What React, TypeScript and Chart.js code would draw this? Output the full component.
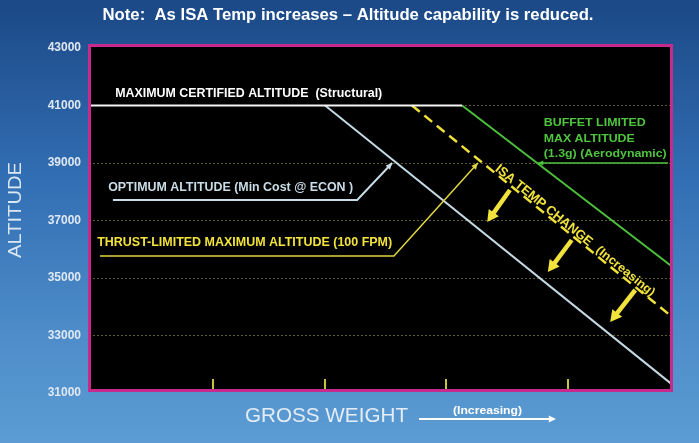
import React, { useEffect, useRef } from 'react';
import { Chart, registerables } from 'chart.js';

Chart.register(...registerables);

// ---------------- data ----------------
const chartTitle = 'Note:  As ISA Temp increases \u2013 Altitude capability is reduced.';
const yAxisTitle = 'ALTITUDE';
const xAxisTitle = 'GROSS WEIGHT';
const xAxisNote = '(Increasing)';

const altitudeMin = 31000;
const altitudeMax = 43000;
const altitudeStep = 2000;
const weightMin = 0;
const weightMax = 100;
const weightTicks = [21.3, 40.5, 61.2, 82.2];

const maxCertifiedAltitude = [
  { x: 0, y: 41000 },
  { x: 64.0, y: 41000 },
];
const optimumAltitude = [
  { x: 40.5, y: 41000 },
  { x: 100, y: 31300 },
];
const buffetLimitedAltitude = [
  { x: 64.0, y: 41000 },
  { x: 100, y: 35400 },
];
const thrustLimitedAltitude = [
  { x: 55.4, y: 41000 },
  { x: 100, y: 33650 },
];

const maxCertifiedLabel = 'MAXIMUM CERTIFIED ALTITUDE  (Structural)';
const optimumLabel = 'OPTIMUM ALTITUDE (Min Cost @ ECON )';
const thrustLabel = 'THRUST-LIMITED MAXIMUM ALTITUDE (100 FPM)';
const buffetLabel = ['BUFFET LIMITED', 'MAX ALTITUDE', '(1.3g) (Aerodynamic)'];
const isaLabel = 'ISA TEMP CHANGE';
const isaNote = '(Increasing)';

// ---------------- annotation layout (data coordinates) ----------------
const WHITE = '#ffffff';
const OPT_COLOR = '#c9dde8';
const GREEN = '#4fc53f';
const YELLOW = '#f2e23c';
const YELLOW_DIM = '#e0d640';

const textNotes = [
  { text: maxCertifiedLabel, x: 27.4, y: 41435, w: 267, font: 'bold 13px "Liberation Sans", Arial, sans-serif', color: WHITE },
  { text: optimumLabel, x: 24.3, y: 38166, w: 245, font: 'bold 13px "Liberation Sans", Arial, sans-serif', color: OPT_COLOR },
  { text: thrustLabel, x: 26.7, y: 36253, w: 295, font: 'bold 13px "Liberation Sans", Arial, sans-serif', color: YELLOW },
];
const buffetRows = [40392, 39835, 39313];
const buffetWidths = [102, 91, 123];
const buffetLeft = 78.0;

const leaders = [
  { pts: [[4.1, 37714], [46.0, 37714], [52.0, 39000]], color: OPT_COLOR, width: 2, head: 7 },
  { pts: [[1.9, 35766], [52.3, 35766], [66.7, 39000]], color: YELLOW_DIM, width: 1.5, head: 7 },
  { pts: [[99.3, 39000], [77.0, 39000]], color: GREEN, width: 1.5, head: 6 },
];
const isaArrows = [
  [[72.2, 38061], [68.3, 36948]],
  [[82.8, 36322], [78.7, 35209]],
  [[93.7, 34583], [89.4, 33470]],
];
const isaText = { x: 78.0, y: 37520, w: 121 };
const isaNoteText = { x: 92.0, y: 35230, w: 72 };

// ---------------- helpers ----------------
function fitText(ctx: CanvasRenderingContext2D, text: string, x: number, y: number, width: number, font: string, color: string, angle = 0, align: CanvasTextAlign = 'center') {
  ctx.save();
  ctx.font = font;
  ctx.fillStyle = color;
  ctx.textAlign = align;
  ctx.textBaseline = 'middle';
  ctx.translate(x, y);
  if (angle) ctx.rotate(angle);
  const m = ctx.measureText(text).width;
  ctx.scale(width / m, 1);
  ctx.fillText(text, 0, 0);
  ctx.restore();
}

function arrowHead(ctx: CanvasRenderingContext2D, x1: number, y1: number, x2: number, y2: number, size: number, spread = 0.45) {
  const a = Math.atan2(y2 - y1, x2 - x1);
  ctx.beginPath();
  ctx.moveTo(x2, y2);
  ctx.lineTo(x2 - size * Math.cos(a - spread), y2 - size * Math.sin(a - spread));
  ctx.lineTo(x2 - size * Math.cos(a + spread), y2 - size * Math.sin(a + spread));
  ctx.closePath();
  ctx.fill();
}

const decorPlugin = {
  id: 'decor',
  beforeDraw(chart: any) {
    const { ctx, width, height, chartArea: a } = chart;
    ctx.save();
    const g = ctx.createLinearGradient(0, 0, 0, height);
    g.addColorStop(0, '#1b4886');
    g.addColorStop(0.4, '#326eb3');
    g.addColorStop(0.75, '#4d8cc9');
    g.addColorStop(1, '#5c9cd3');
    ctx.fillStyle = g;
    ctx.fillRect(0, 0, width, height);
    ctx.fillStyle = '#000000';
    ctx.fillRect(a.left, a.top - 4, a.right - a.left, a.bottom - a.top + 1);
    ctx.restore();
  },
  afterDatasetsDraw(chart: any) {
    const { ctx, chartArea: a } = chart;
    const xs = chart.scales.x;
    const ys = chart.scales.y;
    const px = (v: number) => xs.getPixelForValue(v);
    const py = (v: number) => ys.getPixelForValue(v);
    ctx.save();

    // weight tick marks along the bottom
    ctx.strokeStyle = '#c9c23e';
    ctx.lineWidth = 2;
    weightTicks.forEach((t) => {
      const x = Math.round(px(t));
      ctx.beginPath();
      ctx.moveTo(x, a.bottom - 14);
      ctx.lineTo(x, a.bottom - 3);
      ctx.stroke();
    });

    // leaders
    leaders.forEach((l) => {
      const p = l.pts.map(([x, y]) => [px(x), py(y)]);
      ctx.strokeStyle = l.color;
      ctx.fillStyle = l.color;
      ctx.lineWidth = l.width;
      ctx.beginPath();
      p.forEach(([x, y], i) => (i ? ctx.lineTo(x, y) : ctx.moveTo(x, y)));
      ctx.stroke();
      const n = p.length;
      arrowHead(ctx, p[n - 2][0], p[n - 2][1], p[n - 1][0], p[n - 1][1], l.head);
    });

    // ISA arrows
    ctx.strokeStyle = YELLOW;
    ctx.fillStyle = YELLOW;
    ctx.lineWidth = 4.5;
    isaArrows.forEach(([s, e]) => {
      const x1 = px(s[0]), y1 = py(s[1]), x2 = px(e[0]), y2 = py(e[1]);
      const ang = Math.atan2(y2 - y1, x2 - x1);
      ctx.beginPath();
      ctx.moveTo(x1, y1);
      ctx.lineTo(x2 - 9 * Math.cos(ang), y2 - 9 * Math.sin(ang));
      ctx.stroke();
      arrowHead(ctx, x1, y1, x2, y2, 13, 0.5);
    });

    // text notes
    textNotes.forEach((t) => fitText(ctx, t.text, px(t.x), py(t.y), t.w, t.font, t.color));
    buffetLabel.forEach((s, i) =>
      fitText(ctx, s, px(buffetLeft), py(buffetRows[i]), buffetWidths[i], 'bold 11.5px "Liberation Sans", Arial, sans-serif', GREEN, 0, 'left')
    );

    // ISA rotated texts along the dashed line
    const d = thrustLimitedAltitude;
    const angle = Math.atan2(py(d[1].y) - py(d[0].y), px(d[1].x) - px(d[0].x));
    fitText(ctx, isaLabel, px(isaText.x), py(isaText.y), isaText.w, 'bold 13px "Liberation Sans", Arial, sans-serif', YELLOW, angle);
    fitText(ctx, isaNote, px(isaNoteText.x), py(isaNoteText.y), isaNoteText.w, 'bold 12px "Liberation Sans", Arial, sans-serif', YELLOW, angle);

    // magenta frame
    ctx.strokeStyle = '#c72a8c';
    ctx.lineWidth = 3;
    ctx.strokeRect(a.left + 0.5, a.top - 2.5, a.right - a.left - 1, a.bottom - a.top);
    ctx.restore();
  },
  afterDraw(chart: any) {
    const { ctx } = chart;
    ctx.save();
    fitText(ctx, chartTitle, 348, 16, 491, 'bold 16px "Liberation Sans", Arial, sans-serif', WHITE);
    fitText(ctx, yAxisTitle, 16, 210, 96, '18px "Liberation Sans", Arial, sans-serif', '#dbe7f3', -Math.PI / 2);
    fitText(ctx, xAxisTitle, 326.5, 416, 163, '21px "Liberation Sans", Arial, sans-serif', '#e4edf6');
    fitText(ctx, xAxisNote, 487.5, 411, 69, 'bold 10px "Liberation Sans", Arial, sans-serif', WHITE);
    ctx.strokeStyle = WHITE;
    ctx.fillStyle = WHITE;
    ctx.lineWidth = 2;
    ctx.beginPath();
    ctx.moveTo(419, 419);
    ctx.lineTo(550, 419);
    ctx.stroke();
    arrowHead(ctx, 540, 419, 556, 419, 8, 0.45);
    ctx.restore();
  },
};

export default function App() {
  const ref = useRef<HTMLCanvasElement | null>(null);
  useEffect(() => {
    if (!ref.current) return;
    const chart = new Chart(ref.current, {
      type: 'line',
      data: {
        datasets: [
          { label: 'Maximum certified altitude', data: maxCertifiedAltitude, borderColor: '#f4f4f4', borderWidth: 2, pointRadius: 0 },
          { label: 'Optimum altitude', data: optimumAltitude, borderColor: '#c4d9e4', borderWidth: 2, pointRadius: 0 },
          { label: 'Buffet limited max altitude', data: buffetLimitedAltitude, borderColor: '#4cbf3c', borderWidth: 2, pointRadius: 0 },
          { label: 'Thrust-limited maximum altitude', data: thrustLimitedAltitude, borderColor: '#f0e03a', borderWidth: 2.5, borderDash: [10, 6], pointRadius: 0 },
        ],
      },
      options: {
        animation: false,
        responsive: false,
        layout: { padding: { left: 0, top: 48, right: 27, bottom: 50 } },
        plugins: { legend: { display: false }, tooltip: { enabled: false }, title: { display: false } },
        scales: {
          x: { type: 'linear', min: weightMin, max: weightMax, display: false },
          y: {
            type: 'linear',
            min: altitudeMin,
            max: altitudeMax,
            afterFit: (s: any) => { s.width = 89; },
            ticks: {
              stepSize: altitudeStep,
              color: '#dfe8f2',
              font: { family: '"Liberation Sans", Arial, sans-serif', size: 12, weight: 'bold' },
              padding: 8,
              callback: (v: any) => String(v),
            },
            grid: {
              drawTicks: false,
              lineWidth: 1,
              color: (c: any) => (c.tick && c.tick.value > altitudeMin && c.tick.value < altitudeMax ? '#5f5a2c' : 'rgba(0,0,0,0)'),
            },
            border: { display: false, dash: [2, 2] },
          },
        },
      },
      plugins: [decorPlugin],
    } as any);
    return () => chart.destroy();
  }, []);
  return (
    <div style={{ position: 'fixed', left: 0, top: 0, width: 699, height: 443 }}>
      <canvas ref={ref} width={699} height={443} style={{ display: 'block' }} />
    </div>
  );
}
